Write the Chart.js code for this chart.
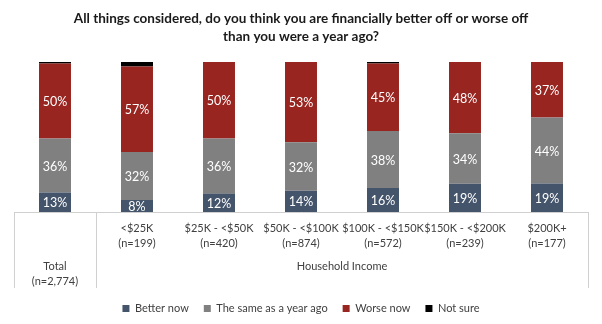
<!DOCTYPE html>
<html>
<head>
<meta charset="utf-8">
<script src="https://cdn.jsdelivr.net/npm/chart.js@4/dist/chart.umd.min.js"></script>
<style>
  html, body { margin: 0; padding: 0; background: #fff; }
  #wrap { width: 602px; height: 324px; }
</style>
</head>
<body>
<div id="wrap"><canvas id="myChart" width="602" height="324"></canvas></div>
<script>
var groups = ['Total', '<$25K', '$25K - <$50K', '$50K - <$100K', '$100K - <$150K', '$150K - <$200K', '$200K+'];
var sampleSizes = ['2,774', '199', '420', '874', '572', '239', '177'];
var better = [13, 8, 12, 14, 16, 19, 19];
var same = [36, 32, 36, 32, 38, 34, 44];
var worse = [50, 57, 50, 53, 45, 48, 37];
var notSure = [1, 3, 0, 0, 1, 0, 0];
var seriesNames = ['Better now', 'The same as a year ago', 'Worse now', 'Not sure'];
var seriesColors = ['#44546A', '#808080', '#982520', '#000000'];

var FONT = 'Lato, "Open Sans", sans-serif';
var series = [better, same, worse, notSure];

// each bar is drawn as a share of its own total so all bars reach the top
function rowTotal(i) {
    return better[i] + same[i] + worse[i] + notSure[i];
}

var datasets = series.map(function (vals, k) {
    return {
        label: seriesNames[k],
        data: vals.map(function (v, i) { return v / rowTotal(i) * 100; }),
        raw: vals,
        backgroundColor: seriesColors[k],
        borderWidth: 0,
        categoryPercentage: 1,
        barPercentage: 0.39
    };
});

var segmentLabels = {
    id: 'segmentLabels',
    afterDatasetsDraw: function (chart) {
        var c = chart.ctx;
        c.save();
        c.fillStyle = '#ffffff';
        c.font = '12.5px ' + FONT;
        c.textAlign = 'center';
        c.textBaseline = 'middle';
        for (var k = 0; k < 3; k++) {
            var meta = chart.getDatasetMeta(k);
            meta.data.forEach(function (bar, i) {
                var v = chart.data.datasets[k].raw[i];
                c.fillText(v + '%', bar.x, (bar.y + bar.base) / 2 + 1);
            });
        }
        c.restore();
    }
};

var tableBox = {
    id: 'tableBox',
    afterDraw: function (chart) {
        var c = chart.ctx;
        var x = chart.scales.x;
        var top = chart.chartArea.bottom;
        var bottom = top + 76;
        var left = chart.chartArea.left;
        var right = chart.chartArea.right;
        var divider = (x.getPixelForTick(0) + x.getPixelForTick(1)) / 2;
        c.save();
        c.strokeStyle = '#D0D0D0';
        c.lineWidth = 1;
        c.beginPath();
        [left, divider, right].forEach(function (px) {
            var p = Math.round(px) + 0.5;
            c.moveTo(p, top);
            c.lineTo(p, bottom);
        });
        c.stroke();
        c.fillStyle = '#404040';
        c.font = '11px ' + FONT;
        c.textAlign = 'center';
        c.textBaseline = 'middle';
        c.fillText(groups[0], x.getPixelForTick(0), top + 54);
        c.fillText('(n=' + sampleSizes[0] + ')', x.getPixelForTick(0), top + 69);
        c.fillText('Household Income', (divider + right) / 2, top + 54);
        c.restore();
    }
};

var ctx = document.getElementById('myChart');
var myChart = new Chart(ctx, {
    type: 'bar',
    data: { labels: groups, datasets: datasets },
    plugins: [segmentLabels, tableBox],
    options: {
        responsive: false,
        animation: false,
        layout: { padding: { left: 14, right: 14, top: 0, bottom: 0 } },
        scales: {
            x: {
                stacked: true,
                grid: { display: false, drawTicks: false },
                border: { display: true, color: '#D0D0D0' },
                ticks: {
                    padding: 9,
                    color: '#404040',
                    font: { family: FONT, size: 11, lineHeight: 15 / 11 },
                    maxRotation: 0,
                    autoSkip: false,
                    callback: function (val, i) {
                        if (i === 0) return '';
                        return [groups[i], '(n=' + sampleSizes[i] + ')'];
                    }
                },
                afterFit: function (s) { s.height = 76; }
            },
            y: { stacked: true, display: false, min: 0, max: 100 }
        },
        plugins: {
            title: {
                display: true,
                text: ['All things considered, do you think you are financially better off or worse off',
                       'than you were a year ago?'],
                color: '#1a1a1a',
                font: { family: FONT, size: 13.5, weight: 'bold', lineHeight: 18 / 13.5 },
                padding: { top: 10, bottom: 16 }
            },
            legend: {
                position: 'bottom',
                labels: {
                    boxWidth: 7,
                    boxHeight: 7,
                    padding: 15,
                    color: '#404040',
                    font: { family: FONT, size: 11 }
                }
            },
            tooltip: { enabled: false }
        }
    }
});
</script>
</body>
</html>
